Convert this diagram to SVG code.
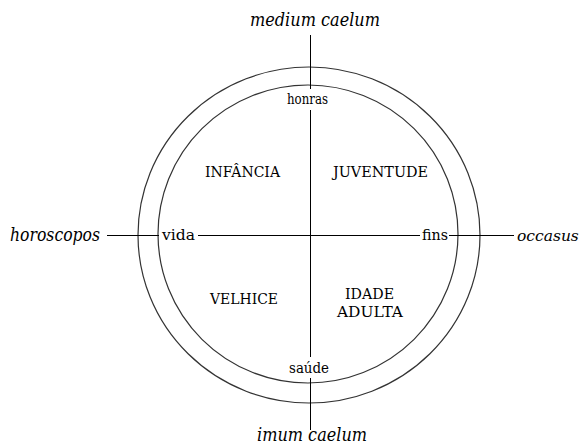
<svg xmlns="http://www.w3.org/2000/svg" width="585" height="446" viewBox="0 0 585 446">
<style>
.ring{fill:none;stroke:#333;stroke-width:1.2}
.ax{stroke:#000;stroke-width:1;fill:none}
text{font-family:'DejaVu Serif','Noto Serif',serif;fill:#000}
.it{font-style:italic;font-size:18px}
.lb{font-size:14px}
</style>
<rect width="585" height="446" fill="#fff"/>
<g id="circles">
<ellipse class="ring" cx="309" cy="235" rx="171" ry="168"/>
<ellipse class="ring" cx="308" cy="234" rx="150" ry="149"/>
</g>
<g id="connectors">
<line class="ax" x1="310.5" y1="35" x2="310.5" y2="89"/>
<line class="ax" x1="310.5" y1="110" x2="310.5" y2="357"/>
<line class="ax" x1="310.5" y1="378" x2="310.5" y2="430"/>
<line class="ax" x1="107" y1="235.5" x2="159" y2="235.5"/>
<line class="ax" x1="198" y1="235.5" x2="420" y2="235.5"/>
<line class="ax" x1="449" y1="235.5" x2="514" y2="235.5"/>
</g>
<g id="medium-caelum"><text class="it" x="250" y="26" textLength="130" lengthAdjust="spacingAndGlyphs">medium caelum</text></g>
<g id="imum-caelum"><text class="it" x="257" y="441" textLength="110" lengthAdjust="spacingAndGlyphs">imum caelum</text></g>
<g id="horoscopos"><text class="it" x="10" y="241" textLength="90" lengthAdjust="spacingAndGlyphs">horoscopos</text></g>
<g id="occasus"><text class="it" x="517" y="241" style="font-size:15.5px">occasus</text></g>
<g id="honras"><text class="lb" x="287" y="104" textLength="41" lengthAdjust="spacingAndGlyphs">honras</text></g>
<g id="saude"><text class="lb" x="289" y="373" textLength="40" lengthAdjust="spacingAndGlyphs">saúde</text></g>
<g id="vida"><text class="lb" x="162" y="240" textLength="33" lengthAdjust="spacingAndGlyphs">vida</text></g>
<g id="fins"><text class="lb" x="422" y="240" textLength="26" lengthAdjust="spacingAndGlyphs">fins</text></g>
<g id="infancia"><text class="lb" x="205" y="177" textLength="75" lengthAdjust="spacingAndGlyphs">INFÂNCIA</text></g>
<g id="juventude"><text class="lb" x="333" y="177" textLength="95" lengthAdjust="spacingAndGlyphs">JUVENTUDE</text></g>
<g id="velhice"><text class="lb" x="210" y="304" textLength="68" lengthAdjust="spacingAndGlyphs">VELHICE</text></g>
<g id="idade-adulta"><text class="lb" x="345" y="299" textLength="49" lengthAdjust="spacingAndGlyphs">IDADE</text><text class="lb" x="337" y="317" textLength="66" lengthAdjust="spacingAndGlyphs">ADULTA</text></g>
</svg>
